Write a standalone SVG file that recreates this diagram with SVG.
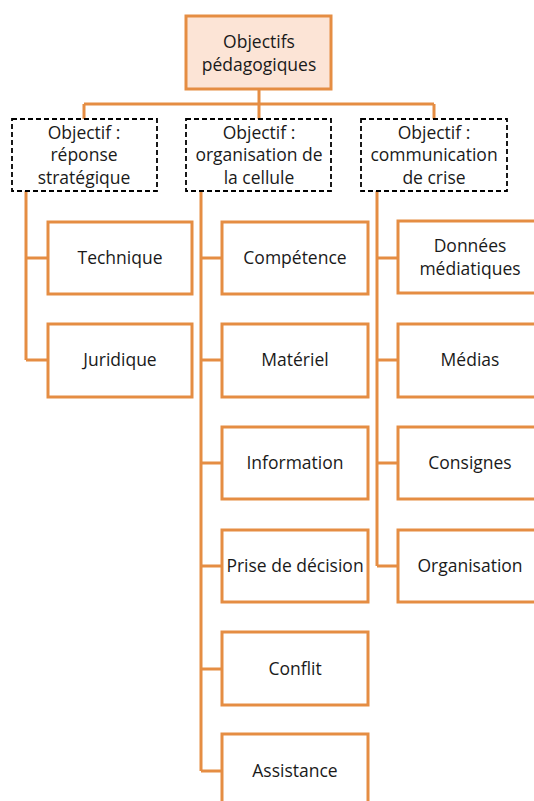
<svg xmlns="http://www.w3.org/2000/svg" width="534" height="801" viewBox="0 0 534 801">
<style>
.box{fill:#ffffff;stroke:#E58D43;stroke-width:3}
.root{fill:#FCE4D6;stroke:#E58D43;stroke-width:3}
.obj{fill:#ffffff;stroke:#000000;stroke-width:1.8;stroke-dasharray:5,3}
.conn{fill:none;stroke:#E58D43;stroke-width:3}
text{font-family:"Open Sans","Liberation Sans",sans-serif;font-size:17.5px;fill:#1a1a1a;text-anchor:middle}
</style>
<rect width="534" height="801" fill="#ffffff"/>
<g id="connectors">
<path class="conn" d="M259 89V104M84 104H434M84 104V119M259 104V119M434 104V119"/>
<path class="conn" d="M26 191V360M26 258H48M26 360H48"/>
<path class="conn" d="M201 191V771M201 258H222M201 360H222M201 463H222M201 566H222M201 669H222M201 771H222"/>
<path class="conn" d="M377 191V566M377 258H398M377 360H398M377 463H398M377 566H398"/>
</g>
<g id="root"><rect class="root" x="186" y="16" width="145" height="73"/><text x="259" y="48">Objectifs</text><text x="259" y="71">pédagogiques</text></g>
<g id="obj1"><rect class="obj" x="12" y="119" width="145" height="72"/><text x="84" y="139">Objectif :</text><text x="84" y="161">réponse</text><text x="84" y="184">stratégique</text></g>
<g id="obj2"><rect class="obj" x="186" y="119" width="145" height="72"/><text x="259" y="139">Objectif :</text><text x="259" y="161">organisation de</text><text x="259" y="184">la cellule</text></g>
<g id="obj3"><rect class="obj" x="361" y="119" width="146" height="72"/><text x="434" y="139">Objectif :</text><text x="434" y="161">communication</text><text x="434" y="184">de crise</text></g>
<g id="technique"><rect class="box" x="48" y="222" width="144" height="72"/><text x="120" y="264">Technique</text></g>
<g id="juridique"><rect class="box" x="48" y="324" width="144" height="73"/><text x="120" y="366">Juridique</text></g>
<g id="competence"><rect class="box" x="222" y="222" width="146" height="72"/><text x="295" y="264">Compétence</text></g>
<g id="materiel"><rect class="box" x="222" y="324" width="146" height="73"/><text x="295" y="366">Matériel</text></g>
<g id="information"><rect class="box" x="222" y="427" width="146" height="72"/><text x="295" y="469">Information</text></g>
<g id="decision"><rect class="box" x="222" y="530" width="146" height="72"/><text x="295" y="572">Prise de décision</text></g>
<g id="conflit"><rect class="box" x="222" y="632" width="146" height="73"/><text x="295" y="675">Conflit</text></g>
<g id="assistance"><rect class="box" x="222" y="734" width="146" height="73"/><text x="295" y="777">Assistance</text></g>
<g id="donnees"><rect class="box" x="398" y="221" width="146" height="72"/><text x="470" y="252">Données</text><text x="470" y="275">médiatiques</text></g>
<g id="medias"><rect class="box" x="398" y="324" width="146" height="73"/><text x="470" y="366">Médias</text></g>
<g id="consignes"><rect class="box" x="398" y="427" width="146" height="72"/><text x="470" y="469">Consignes</text></g>
<g id="organisation"><rect class="box" x="398" y="530" width="146" height="72"/><text x="470" y="572">Organisation</text></g>
</svg>
